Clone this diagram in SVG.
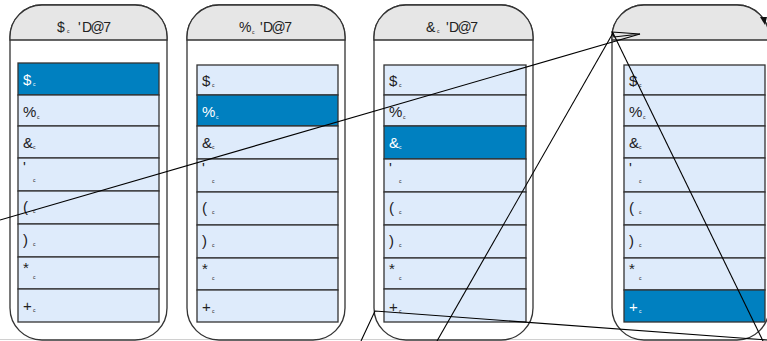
<svg xmlns="http://www.w3.org/2000/svg" width="767" height="341" viewBox="0 0 767 341">
<style>
.pb{fill:#fff;stroke:#333;stroke-width:1.3}
.hd{fill:#e6e6e6;stroke:#333;stroke-width:1.3}
.r{fill:#deebfb;stroke:#333;stroke-width:1.3}
.rs{fill:#0080c0;stroke:#333;stroke-width:1.3}
text{font-family:"Liberation Sans",Arial,sans-serif;fill:#222}
.g{font-size:15px}
.m{font-size:5px}
.h{font-size:14px}
.w{fill:#fff}
.cn{fill:none;stroke:#000;stroke-width:1.1}
</style>
<line x1="0" y1="339.5" x2="767" y2="339.5" stroke="#d0d0d0" stroke-width="1"/>
<g id="panel1">
<path class="pb" d="M10,37 A32,32 0 0 1 42,5 H135 A32,32 0 0 1 167,37 V308 A32,32 0 0 1 135,340 H42 A32,32 0 0 1 10,308 Z"/>
<path class="hd" d="M10,40 V37 A32,32 0 0 1 42,5 H135 A32,32 0 0 1 167,37 V40 Z"/>
<text class="h" x="57" y="32">$</text><text class="m" x="67" y="33">c</text><text class="h" x="78" y="32">'</text><text class="h" x="82" y="32" textLength="29">D@7</text>
<rect class="rs" x="18" y="63" width="141" height="32"/>
<rect class="r" x="18" y="95" width="141" height="31"/>
<rect class="r" x="18" y="126" width="141" height="32"/>
<rect class="r" x="18" y="158" width="141" height="33"/>
<rect class="r" x="18" y="191" width="141" height="33"/>
<rect class="r" x="18" y="224" width="141" height="33"/>
<rect class="r" x="18" y="257" width="141" height="32"/>
<rect class="r" x="18" y="289" width="141" height="33"/>
<text class="g w" x="23" y="85">$</text><text class="m w" x="33" y="86">c</text>
<text class="g" x="23" y="117">%</text><text class="m" x="37" y="119">c</text>
<text class="g" x="23" y="148">&amp;</text><text class="m" x="33" y="149">c</text>
<text class="g" x="23" y="172">'</text><text class="m" x="33" y="182">c</text>
<text class="g" x="23" y="212">(</text><text class="m" x="33" y="213">c</text>
<text class="g" x="23" y="245">)</text><text class="m" x="33" y="246">c</text>
<text class="g" x="23" y="273">*</text><text class="m" x="33" y="279">c</text>
<text class="g" x="23" y="311">+</text><text class="m" x="33" y="312">c</text>
</g>
<g id="panel2">
<path class="pb" d="M187,37 A32,32 0 0 1 219,5 H313 A32,32 0 0 1 345,37 V308 A32,32 0 0 1 313,340 H219 A32,32 0 0 1 187,308 Z"/>
<path class="hd" d="M187,40 V37 A32,32 0 0 1 219,5 H313 A32,32 0 0 1 345,37 V40 Z"/>
<text class="h" x="239" y="32">%</text><text class="m" x="252" y="34">c</text><text class="h" x="260" y="32">'</text><text class="h" x="263" y="32" textLength="29">D@7</text>
<rect class="r" x="197" y="65" width="141" height="30"/>
<rect class="rs" x="197" y="95" width="141" height="31"/>
<rect class="r" x="197" y="126" width="141" height="33"/>
<rect class="r" x="197" y="159" width="141" height="33"/>
<rect class="r" x="197" y="192" width="141" height="33"/>
<rect class="r" x="197" y="225" width="141" height="33"/>
<rect class="r" x="197" y="258" width="141" height="32"/>
<rect class="r" x="197" y="290" width="141" height="32"/>
<text class="g" x="202" y="86">$</text><text class="m" x="212" y="87">c</text>
<text class="g w" x="202" y="117">%</text><text class="m w" x="216" y="119">c</text>
<text class="g" x="202" y="148">&amp;</text><text class="m" x="212" y="149">c</text>
<text class="g" x="202" y="173">'</text><text class="m" x="212" y="183">c</text>
<text class="g" x="202" y="213">(</text><text class="m" x="212" y="214">c</text>
<text class="g" x="202" y="246">)</text><text class="m" x="212" y="247">c</text>
<text class="g" x="202" y="274">*</text><text class="m" x="212" y="280">c</text>
<text class="g" x="202" y="312">+</text><text class="m" x="212" y="313">c</text>
</g>
<g id="panel3">
<path class="pb" d="M374,37 A32,32 0 0 1 406,5 H501 A32,32 0 0 1 533,37 V308 A32,32 0 0 1 501,340 H406 A32,32 0 0 1 374,308 Z"/>
<path class="hd" d="M374,40 V37 A32,32 0 0 1 406,5 H501 A32,32 0 0 1 533,37 V40 Z"/>
<text class="h" x="426" y="32">&amp;</text><text class="m" x="437" y="33">c</text><text class="h" x="446" y="32">'</text><text class="h" x="449" y="32" textLength="29">D@7</text>
<rect class="r" x="384" y="65" width="142" height="30"/>
<rect class="r" x="384" y="95" width="142" height="31"/>
<rect class="rs" x="384" y="126" width="142" height="33"/>
<rect class="r" x="384" y="159" width="142" height="33"/>
<rect class="r" x="384" y="192" width="142" height="33"/>
<rect class="r" x="384" y="225" width="142" height="33"/>
<rect class="r" x="384" y="258" width="142" height="31"/>
<rect class="r" x="384" y="289" width="142" height="33"/>
<text class="g" x="389" y="86">$</text><text class="m" x="399" y="87">c</text>
<text class="g" x="389" y="117">%</text><text class="m" x="403" y="119">c</text>
<text class="g w" x="389" y="148">&amp;</text><text class="m w" x="399" y="149">c</text>
<text class="g" x="389" y="173">'</text><text class="m" x="399" y="183">c</text>
<text class="g" x="389" y="213">(</text><text class="m" x="399" y="214">c</text>
<text class="g" x="389" y="246">)</text><text class="m" x="399" y="247">c</text>
<text class="g" x="389" y="274">*</text><text class="m" x="399" y="280">c</text>
<text class="g" x="389" y="312">+</text><text class="m" x="399" y="313">c</text>
</g>
<g id="panel4">
<path class="pb" d="M612,37 A32,32 0 0 1 644,5 H737 A32,32 0 0 1 769,37 V308 A32,32 0 0 1 737,340 H644 A32,32 0 0 1 612,308 Z"/>
<path class="hd" d="M612,40 V37 A32,32 0 0 1 644,5 H737 A32,32 0 0 1 769,37 V40 Z"/>
<rect class="r" x="624" y="65" width="141" height="30"/>
<rect class="r" x="624" y="95" width="141" height="31"/>
<rect class="r" x="624" y="126" width="141" height="32"/>
<rect class="r" x="624" y="158" width="141" height="34"/>
<rect class="r" x="624" y="192" width="141" height="33"/>
<rect class="r" x="624" y="225" width="141" height="33"/>
<rect class="r" x="624" y="258" width="141" height="32"/>
<rect class="rs" x="624" y="290" width="141" height="32"/>
<text class="g" x="629" y="86">$</text><text class="m" x="639" y="87">c</text>
<text class="g" x="629" y="117">%</text><text class="m" x="643" y="119">c</text>
<text class="g" x="629" y="148">&amp;</text><text class="m" x="639" y="149">c</text>
<text class="g" x="629" y="173">'</text><text class="m" x="639" y="183">c</text>
<text class="g" x="629" y="213">(</text><text class="m" x="639" y="214">c</text>
<text class="g" x="629" y="246">)</text><text class="m" x="639" y="247">c</text>
<text class="g" x="629" y="274">*</text><text class="m" x="639" y="280">c</text>
<text class="g w" x="629" y="312">+</text><text class="m w" x="639" y="313">c</text>
</g>
<g id="connectors">
<line class="cn" x1="0" y1="220" x2="640" y2="34"/>
<polygon class="cn" points="612,32 640,34 614,37"/>
<line class="cn" x1="437" y1="341" x2="613" y2="33"/>
<line class="cn" x1="613" y1="33" x2="763" y2="341"/>
<polyline class="cn" points="361,341 375,311 767,340"/>
<polygon points="760,17 767,17 765,25" fill="#111"/>
</g>
</svg>
